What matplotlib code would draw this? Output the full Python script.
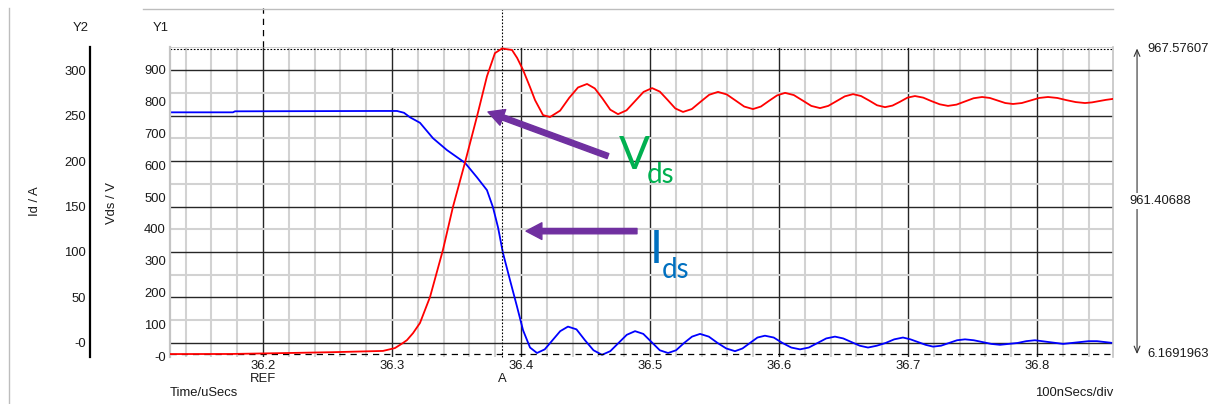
import matplotlib
matplotlib.use("Agg")
import matplotlib.pyplot as plt
from matplotlib.ticker import MultipleLocator, FormatStrFormatter, FuncFormatter
from matplotlib.lines import Line2D

# switching transient: drain-source voltage (Y1) and drain current (Y2) vs time in us
t_vds = [36.1279, 36.1744, 36.2132, 36.2535, 36.2930, 36.3023, 36.3085, 36.3116, 36.3163,
         36.3217, 36.3295, 36.3395, 36.3473, 36.3566, 36.3659, 36.3736, 36.3798, 36.3853,
         36.3930, 36.3970, 36.4016, 36.4070, 36.4109, 36.4171, 36.4225,
         36.4303, 36.4373, 36.4442, 36.4512,
         36.4572, 36.4632, 36.4692, 36.4752,
         36.4818, 36.4884, 36.4950, 36.5016,
         36.5076, 36.5136, 36.5196, 36.5256,
         36.5324, 36.5392, 36.5459, 36.5527,
         36.5595, 36.5663, 36.5730, 36.5798,
         36.5860, 36.5923, 36.5985, 36.6047,
         36.6115, 36.6183, 36.6250, 36.6318,
         36.6382, 36.6446, 36.6510, 36.6574,
         36.6636, 36.6698, 36.6760, 36.6822,
         36.6880, 36.6938, 36.6996, 36.7054,
         36.7118, 36.7182, 36.7246, 36.7310,
         36.7376, 36.7442, 36.7508, 36.7574,
         36.7634, 36.7694, 36.7754, 36.7814,
         36.7882, 36.7950, 36.8017, 36.8085,
         36.8157, 36.8229, 36.8300, 36.8372,
         36.8426, 36.8480, 36.8535, 36.8589]
vds = [6.1691963, 6.4, 9, 12, 16, 25, 41, 50, 72,
       104, 186, 334, 470, 609, 754, 880, 953, 967.576074,
       963, 938, 900, 846, 805, 758, 752,
       772, 812, 845, 856,
       842, 810, 775, 761,
       773, 802, 831, 843,
       832, 806, 779, 768,
       777, 800, 822, 831,
       823, 804, 785, 777,
       785, 803, 820, 828,
       821, 804, 787, 780,
       787, 802, 817, 824,
       818, 804, 789, 783,
       788, 800, 813, 818,
       813, 802, 792, 787,
       791, 801, 811, 815,
       812, 804, 796, 793,
       796, 804, 812, 815,
       812, 805, 799, 796,
       798, 802, 806, 809]

t_id = [36.1279, 36.1767, 36.1783, 36.2907, 36.3039, 36.3093, 36.3140, 36.3217, 36.3318,
        36.3426, 36.3566, 36.3659, 36.3736, 36.3783, 36.3822, 36.3860, 36.3915, 36.3969,
        36.4016, 36.4070, 36.4124,
        36.4184, 36.4244, 36.4304, 36.4364,
        36.4430, 36.4496, 36.4562, 36.4628,
        36.4692, 36.4756, 36.4820, 36.4884,
        36.4948, 36.5012, 36.5076, 36.5140,
        36.5202, 36.5264, 36.5326, 36.5388,
        36.5456, 36.5524, 36.5591, 36.5659,
        36.5717, 36.5775, 36.5833, 36.5891,
        36.5959, 36.6027, 36.6095, 36.6163,
        36.6231, 36.6299, 36.6366, 36.6434,
        36.6498, 36.6562, 36.6626, 36.6690,
        36.6758, 36.6826, 36.6893, 36.6961,
        36.7019, 36.7078, 36.7136, 36.7194,
        36.7256, 36.7318, 36.7380, 36.7442,
        36.7510, 36.7578, 36.7645, 36.7713,
        36.7781, 36.7849, 36.7916, 36.7984,
        36.8039, 36.8093, 36.8148, 36.8202,
        36.8268, 36.8334, 36.8400, 36.8465,
        36.8527, 36.8589]
id_a = [253.5, 253.5, 254.6, 255, 255, 253, 248, 242, 225,
        212, 198, 182, 168, 149, 127, 99, 69, 40,
        14, -5, -11,
        -7, 3, 13, 18,
        15, 3, -8, -13,
        -9, 0, 9, 13,
        10, 1, -8, -11,
        -8, 0, 7, 10,
        7, 0, -6, -9,
        -6, 0, 6, 8,
        6, 0, -5, -7,
        -5, 0, 5, 7,
        5, 1, -3, -5,
        -3, 0, 4, 6,
        4, 1, -2, -4,
        -3, 0, 3, 4,
        3, 1, -1, -2,
        -1, 0, 2, 3,
        2, 1, 0, -1,
        0, 1, 2, 2,
        1, 0]

vds_ticks = [0, 100, 200, 300, 400, 500, 600, 700, 800, 900]
id_ticks = [0, 50, 100, 150, 200, 250, 300]
time_ticks = [36.2, 36.3, 36.4, 36.5, 36.6, 36.7, 36.8]
ref_time = 36.2

W, H = 1210, 404
TXT = '#1a1a1a'
plt.rcParams['font.family'] = ['Liberation Sans', 'DejaVu Sans']
plt.rcParams['font.size'] = 9.4
plt.rcParams['text.color'] = TXT
plt.rcParams['xtick.color'] = TXT
plt.rcParams['ytick.color'] = TXT


def fx(px):
    return px / W


def fy(py):
    return 1 - py / H


fig = plt.figure(figsize=(W / 100, H / 100), dpi=100)
fig.patch.set_facecolor('white')

# current axis is the base one (grid lives here), voltage axis on top of it
ax_i = fig.add_axes([fx(170), fy(357), (1113 - 170) / W, 310 / H])
ax_v = ax_i.twinx()

ax_i.set_xlim(36.12791, 36.85891)
ax_i.set_ylim(-15.4, 325.3)
ax_v.set_ylim(-3.1, 972.3)

# grid: 20 ns light lines, 100 ns dark lines; 25 A light, 50 A dark
ax_i.set_axisbelow(True)
ax_i.xaxis.set_major_locator(MultipleLocator(0.1))
ax_i.xaxis.set_minor_locator(MultipleLocator(0.02))
ax_i.yaxis.set_major_locator(MultipleLocator(50))
ax_i.yaxis.set_minor_locator(MultipleLocator(25))
ax_i.grid(which='minor', color='#d2d2d2', lw=1.5)
ax_i.grid(which='major', color='#262626', lw=1.0)
ax_i.xaxis.set_major_formatter(FormatStrFormatter('%.1f'))
ax_i.tick_params(axis='x', which='both', length=0, pad=2)

zero_fmt = FuncFormatter(lambda v, p: '-0' if abs(v) < 1e-9 else f'{v:.0f}')

# Y2 (current) scale sits outside, on its own black spine
ax_i.set_yticks(id_ticks)
ax_i.yaxis.set_major_formatter(zero_fmt)
ax_i.tick_params(axis='y', which='both', length=0, pad=3)
ax_i.spines['left'].set_position(('outward', 57.6))
ax_i.spines['left'].set_linewidth(1.6)
ax_i.spines['left'].set_color('black')
for s in ['right', 'top', 'bottom']:
    ax_i.spines[s].set_visible(False)

# Y1 (voltage) scale right at the plot edge
ax_v.yaxis.tick_left()
ax_v.set_yticks(vds_ticks)
ax_v.yaxis.set_major_formatter(zero_fmt)
ax_v.tick_params(axis='y', length=0, pad=3)
ax_v.spines['left'].set_color('#c4c4c4')
ax_v.spines['left'].set_linewidth(1.6)
ax_v.spines['right'].set_color('#c4c4c4')
ax_v.spines['right'].set_linewidth(1.2)
ax_v.spines['top'].set_visible(False)
ax_v.spines['bottom'].set_visible(False)

ax_i.plot(t_id, id_a, color='#0000ff', lw=1.3, zorder=3)
ax_v.plot(t_vds, vds, color='#ff0000', lw=1.3, zorder=3)

v_max = max(vds)
v_min = min(vds)
t_a = t_vds[vds.index(v_max)]

# cursor levels and cursor positions
ax_v.axhline(v_max, color='black', lw=0.8, ls=(0, (1.5, 1.5)), zorder=2)
ax_v.axhline(v_min, color='black', lw=0.9, ls=(0, (5, 4)), zorder=2)
ax_v.axvline(t_a, ymin=0, ymax=(357 - 8) / 310, color='black', lw=0.8,
             ls=(0, (1.5, 1.5)), clip_on=False, zorder=2)
ax_v.axvline(ref_time, ymin=1.0, ymax=(357 - 8) / 310, color='black', lw=0.9,
             ls=(0, (5, 4)), clip_on=False)

xt = ax_i.get_xaxis_transform()
ax_i.text(ref_time, (357 - 379) / 310, 'REF', ha='center', va='center', transform=xt)
ax_i.text(t_a, (357 - 379) / 310, 'A', ha='center', va='center', transform=xt)

# delta arrow between the two cursor levels
yt = ax_v.get_yaxis_transform()
ax_v.annotate('', xy=(1.0255, v_max), xytext=(1.0255, v_min), xycoords=yt,
              textcoords=yt, annotation_clip=False,
              arrowprops=dict(arrowstyle='<->,head_length=0.5,head_width=0.22',
                              lw=0.8, color='#333333', shrinkA=0, shrinkB=0))
ax_v.text(1.036, v_max, '%.8g' % v_max, transform=yt, ha='left', va='center')
ax_v.text(1.036, v_min, '%.8g' % v_min, transform=yt, ha='left', va='center')
ax_v.text(1.0498, (v_max + v_min) / 2, '%.8g' % (v_max - v_min), transform=yt,
          ha='center', va='center',
          bbox=dict(facecolor='white', edgecolor='none', pad=1.5))

# purple pointers to the two traces
purple = '#7030a0'
arrow = dict(arrowstyle='simple,head_length=0.95,head_width=1.0,tail_width=0.32',
             mutation_scale=12, color=purple, shrinkA=0, shrinkB=0)
ax_v.annotate('', xy=(36.3744, 768), xytext=(36.4674, 629), arrowprops=arrow)
ax_v.annotate('', xy=(36.4039, 393), xytext=(36.4899, 393), arrowprops=arrow)

fig.text(fx(619), fy(169), 'V', color='#00b050', fontsize=33, family='Lato', va='baseline')
fig.text(fx(647), fy(183), 'ds', color='#00b050', fontsize=20, family='Lato', va='baseline')
fig.text(fx(650), fy(263), 'I', color='#0070c0', fontsize=33, family='Lato', va='baseline')
fig.text(fx(662), fy(278), 'ds', color='#0070c0', fontsize=20, family='Lato', va='baseline')

# axis titles and frame decoration
fig.text(fx(81), fy(28), 'Y2', ha='center', va='center')
fig.text(fx(161), fy(28), 'Y1', ha='center', va='center')
fig.text(fx(35), fy(201), 'Id / A', ha='center', va='center', rotation=90)
fig.text(fx(112), fy(203), 'Vds / V', ha='center', va='center', rotation=90)
fig.text(fx(170), fy(393), 'Time/uSecs', ha='left', va='center')
fig.text(fx(1113), fy(393), '100nSecs/div', ha='right', va='center')

fig.add_artist(Line2D([fx(143), fx(1113)], [fy(9), fy(9)], color='#bdbdbd', lw=1.0))
fig.add_artist(Line2D([fx(9), fx(9)], [fy(8), fy(404)], color='#bdbdbd', lw=1.0))

fig.savefig('out.png', dpi=100)
